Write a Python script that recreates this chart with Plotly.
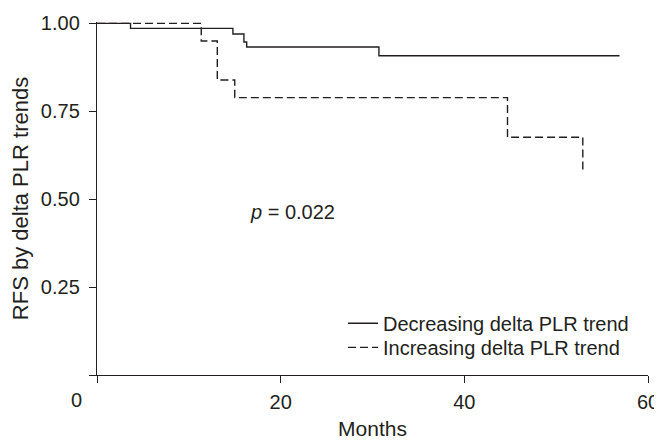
import plotly.graph_objects as go

# Kaplan-Meier step data
dec_months = [0, 3.65, 14.8, 16.0, 16.3, 30.7, 56.9]
dec_surv = [1.0, 0.986, 0.970, 0.947, 0.933, 0.908, 0.908]

inc_months = [0, 11.35, 13.1, 15.0, 44.7, 52.9]
inc_surv = [1.0, 0.950, 0.839, 0.789, 0.676, 0.580]

x_ticks = [0, 20, 40, 60]
x_tick_text = ["", "20", "40", "60"]
y_ticks = [0, 0.25, 0.50, 0.75, 1.00]
y_tick_text = ["", "0.25", "0.50", "0.75", "1.00"]

p_text = "<i>p</i> = 0.022"
p_pos = (21.3, 0.465)

INK = "#231f20"
FONT = "Liberation Sans, Arial, sans-serif"
FS = 20

fig = go.Figure()
fig.add_trace(go.Scatter(
    x=dec_months, y=dec_surv, mode="lines", line_shape="hv",
    line=dict(color=INK, width=1.4), name="Decreasing delta PLR trend",
    legend="legend"))
fig.add_trace(go.Scatter(
    x=inc_months, y=inc_surv, mode="lines", line_shape="hv",
    line=dict(color=INK, width=1.4, dash="8px,4px"), name="Increasing delta PLR trend",
    legend="legend2"))

fig.add_annotation(x=p_pos[0], y=p_pos[1], text=p_text, showarrow=False,
                   font=dict(size=FS, color=INK, family=FONT))
# "0" tick label sits left of its tick in the reference
fig.add_annotation(x=0, y=0, text="0", showarrow=False, xshift=-21,
                   yshift=-25, font=dict(size=FS, color=INK, family=FONT))

legend_style = dict(xanchor="left", yanchor="top", bgcolor="rgba(0,0,0,0)",
                    font=dict(size=FS, color=INK), itemclick=False, borderwidth=0)

fig.update_layout(
    template="none",
    width=654, height=432,
    margin=dict(l=89, r=14, t=14, b=65, autoexpand=False),
    paper_bgcolor="white", plot_bgcolor="white",
    font=dict(family=FONT, size=FS, color=INK),
    showlegend=True,
    legend=dict(x=0.4465, y=0.2017, **legend_style),
    legend2=dict(x=0.4465, y=0.1335, **legend_style),
    xaxis=dict(range=[0, 60], tickvals=x_ticks, ticktext=x_tick_text,
               automargin=False,
               showline=True, linecolor=INK, linewidth=1.4, ticks="outside",
               ticklen=7, tickwidth=1.4, tickcolor=INK, showgrid=False,
               zeroline=False,
               title=dict(text="Months", standoff=10, font=dict(size=21, color=INK)),
               ticklabelstandoff=2, tickfont=dict(size=FS)),
    yaxis=dict(range=[0, 1.004], tickvals=y_ticks, ticktext=y_tick_text,
               automargin=False,
               showline=True, linecolor=INK, linewidth=1.4, ticks="outside",
               ticklen=7, tickwidth=1.4, tickcolor=INK, showgrid=False,
               zeroline=False,
               title=dict(text="RFS by delta PLR trends", standoff=26,
                          font=dict(size=22, color=INK)),
               ticklabelstandoff=5, tickfont=dict(size=FS)),
)

fig.write_html("out.html")
